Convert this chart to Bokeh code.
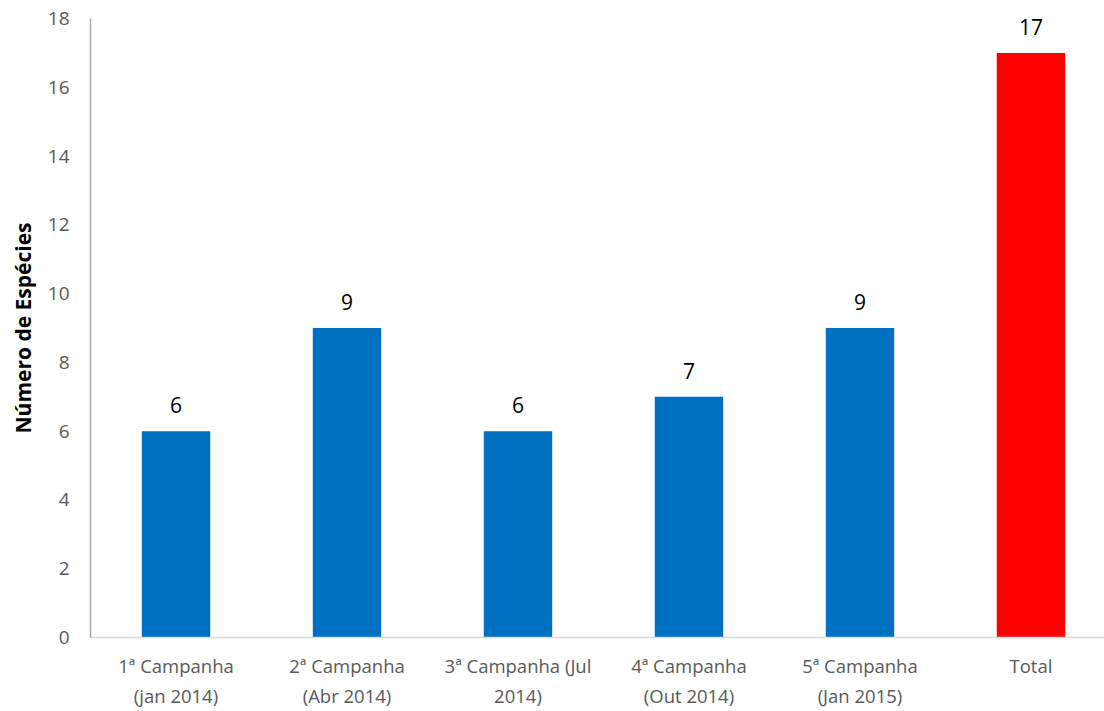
from bokeh.plotting import figure
from bokeh.models import ColumnDataSource, FixedTicker, Range1d, LabelSet
from bokeh.core.properties import value
from bokeh.embed import file_html
from bokeh.resources import INLINE

categories = ["1ª Campanha\n(jan 2014)", "2ª Campanha\n(Abr 2014)", "3ª Campanha (Jul\n2014)",
              "4ª Campanha\n(Out 2014)", "5ª Campanha\n(Jan 2015)", "Total"]
values = [6, 9, 6, 7, 9, 17]
colors = ["#0070C0", "#0070C0", "#0070C0", "#0070C0", "#0070C0", "#FF0000"]
y_ticks = [0, 2, 4, 6, 8, 10, 12, 14, 16, 18]

xs = [i + 0.5 for i in range(len(categories))]
src = ColumnDataSource(dict(x=xs, top=values, color=colors, label=[str(v) for v in values]))

FONT = "Open Sans"

p = figure(width=1104, height=711, output_backend="svg", toolbar_location=None,
           x_range=Range1d(0, 5.93), y_range=Range1d(0, 18),
           min_border_left=90, min_border_right=0, min_border_top=18, min_border_bottom=74)
p.outline_line_color = None
p.xgrid.visible = False
p.ygrid.visible = False

p.vbar(x="x", top="top", width=0.4, bottom=0, color="color", line_color=None, source=src)

labels = LabelSet(x="x", y="top", text="label", source=src, text_align="center",
                  text_baseline="bottom", y_offset=18, text_font=value(FONT),
                  text_font_size="21px", text_color="#000000")
p.add_layout(labels)

p.xaxis.ticker = FixedTicker(ticks=xs)
p.xaxis.major_label_overrides = {x: c for x, c in zip(xs, categories)}
p.xaxis.major_tick_line_color = None
p.xaxis.minor_tick_line_color = None
p.xaxis.axis_line_color = "#d9d9d9"
p.xaxis.axis_line_width = 1.5
p.xaxis.major_label_text_font = FONT
p.xaxis.major_label_text_font_size = "18.5px"
p.xaxis.major_label_text_color = "#595959"
p.xaxis.major_label_standoff = 9

p.yaxis.ticker = FixedTicker(ticks=y_ticks)
p.yaxis.major_tick_line_color = None
p.yaxis.minor_tick_line_color = None
p.yaxis.axis_line_color = "#a6a6a6"
p.yaxis.axis_line_width = 1.5
p.yaxis.major_label_text_font = FONT
p.yaxis.major_label_text_font_size = "19px"
p.yaxis.major_label_text_color = "#595959"
p.yaxis.major_label_standoff = 15
p.yaxis.axis_label = "Número de Espécies"
p.yaxis.axis_label_text_font = FONT
p.yaxis.axis_label_text_font_size = "21px"
p.yaxis.axis_label_text_font_style = "bold"
p.yaxis.axis_label_text_color = "#000000"
p.yaxis.axis_label_standoff = 8

open("out.html", "w").write(file_html(p, INLINE))
